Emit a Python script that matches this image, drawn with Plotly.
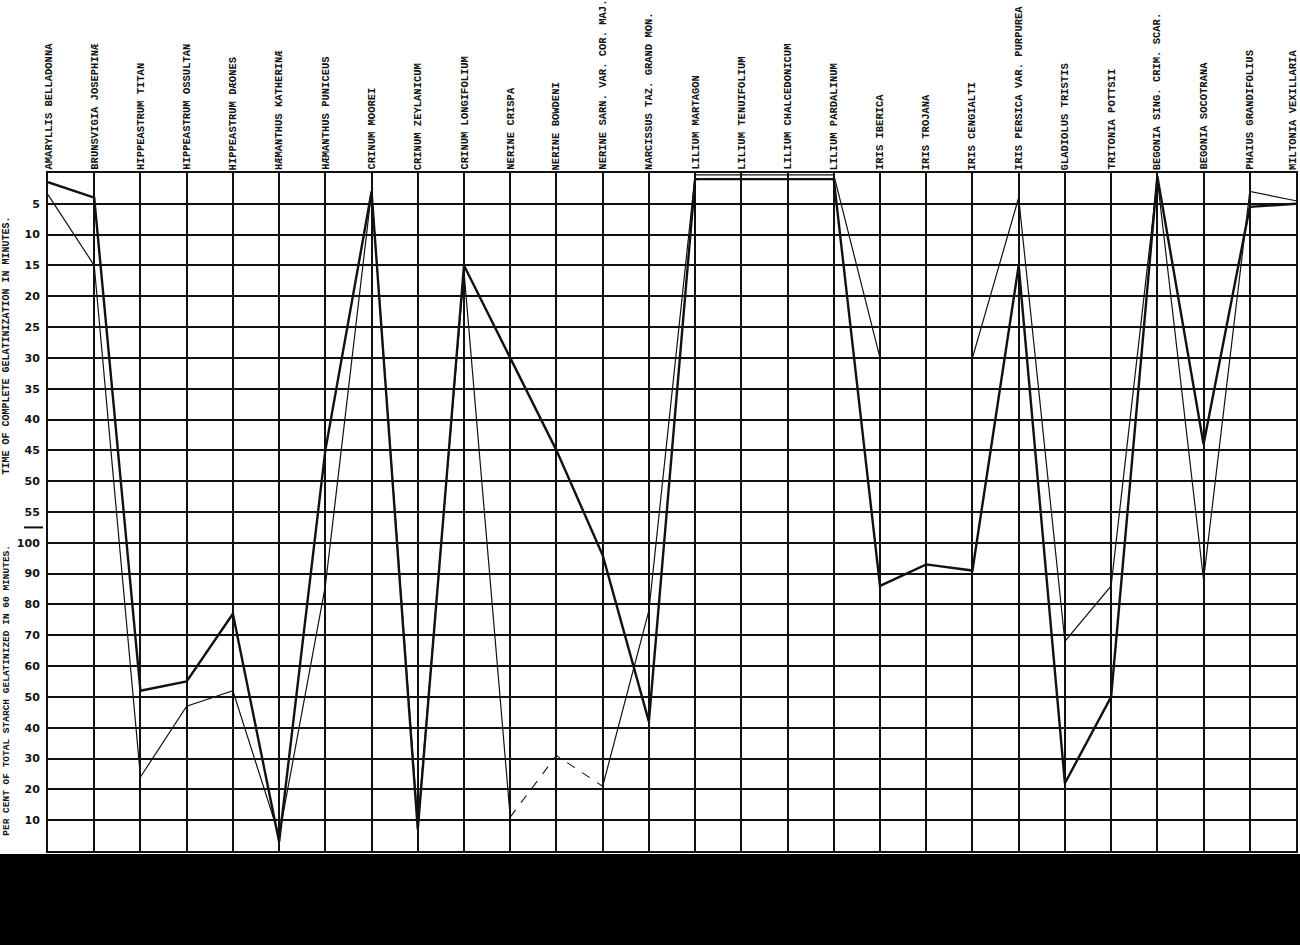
import plotly.graph_objects as go

species = [
    "AMARYLLIS BELLADONNA", "BRUNSVIGIA JOSEPHINÆ", "HIPPEASTRUM TITAN",
    "HIPPEASTRUM OSSULTAN", "HIPPEASTRUM DÆONES", "HÆMANTHUS KATHERINÆ",
    "HÆMANTHUS PUNICEUS", "CRINUM MOOREI", "CRINUM ZEYLANICUM",
    "CRINUM LONGIFOLIUM", "NERINE CRISPA", "NERINE BOWDENI",
    "NERINE SARN. VAR. COR. MAJ.", "NARCISSUS TAZ. GRAND MON.",
    "LILIUM MARTAGON", "LILIUM TENUIFOLIUM", "LILIUM CHALCEDONICUM",
    "LILIUM PARDALINUM", "IRIS IBERICA", "IRIS TROJANA", "IRIS CENGIALTI",
    "IRIS PERSICA VAR. PURPUREA", "GLADIOLUS TRISTIS", "TRITONIA POTTSII",
    "BEGONIA SING. CRIM. SCAR.", "BEGONIA SOCOTRANA", "PHAIUS GRANDIFOLIUS",
    "MILTONIA VEXILLARIA",
]

# 'min' = time of complete gelatinization (minutes); 'pct' = per cent gelatinized in 60 minutes
thick_unit = ["min", "min", "pct", "pct", "pct", "pct", "min", "min", "pct", "min",
              "min", "min", "pct", "pct", "min", "min", "min", "min", "pct", "pct",
              "pct", "min", "pct", "pct", "min", "min", "min", "min"]
thick_val = [1.5, 4, 52, 55, 77, 3, 45, 3, 7, 15,
             30, 45, 96, 42, 1, 1, 1, 1, 86, 93,
             91, 15, 22, 50, 0.5, 44, 5.5, 5]

thin_unit = ["min", "min", "pct", "pct", "pct", "pct", "pct", "min", "pct", "min",
             "pct", "pct", "pct", "pct", "min", "min", "min", "min", "min", "min",
             "min", "min", "pct", "pct", "min", "pct", "min", "min"]
thin_val = [3.5, 15, 24, 47, 52, 5, 86, 3, 9, 16,
            11, 31, 21, 78, 0.3, 0.3, 0.3, 0.3, 30, 30,
            30, 4, 68, 86, 1, 88, 3, 4.5]
thin_dashed_idx = [10, 11, 12]

minute_ticks = [5, 10, 15, 20, 25, 30, 35, 40, 45, 50, 55]
percent_ticks = [100, 90, 80, 70, 60, 50, 40, 30, 20, 10]

ROW_100 = 12  # row of the 100 % line (one row below 55 minutes)


def to_row(v, u):
    return v / 5.0 if u == "min" else ROW_100 + (100 - v) / 10.0


thick_y = [to_row(v, u) for v, u in zip(thick_val, thick_unit)]
thin_y = [to_row(v, u) for v, u in zip(thin_val, thin_unit)]
thin_solid = [None if i == 11 else y for i, y in enumerate(thin_y)]
dash_x = [species[i] for i in thin_dashed_idx]
dash_y = [thin_y[i] for i in thin_dashed_idx]

fig = go.Figure()
fig.add_trace(go.Scatter(x=species, y=thin_solid, mode="lines",
                         line=dict(color="#111", width=1.2), connectgaps=False))
fig.add_trace(go.Scatter(x=dash_x, y=dash_y, mode="lines",
                         line=dict(color="#111", width=1.1, dash="dash")))
fig.add_trace(go.Scatter(x=species, y=thick_y, mode="lines",
                         line=dict(color="#111", width=2.4)))

tickvals = [to_row(m, "min") for m in minute_ticks] + [to_row(p, "pct") for p in percent_ticks]
ticktext = [str(m) for m in minute_ticks] + [str(p) for p in percent_ticks]
bottom_row = to_row(0, "pct")

W, H = 1300, 945
ml, mr, mt, mb = 48, 4, 173, 94
pw, ph = W - ml - mr, H - mt - mb

annotations = []
for i, s in enumerate(species):
    annotations.append(dict(x=s, y=0, xref="x", yref="y", text="<b>" + s + "</b>",
                            textangle=-90, showarrow=False, xanchor="center",
                            yanchor="bottom", yshift=1,
                            xshift=(-3 if i == len(species) - 1 else 0),
                            font=dict(family="Liberation Mono", size=10.5, color="#111")))
annotations.append(dict(x=-41 / pw, y=5.6, xref="paper", yref="y",
                        text="<b>TIME OF COMPLETE GELATINIZATION IN MINUTES.</b>",
                        textangle=-90, showarrow=False, xanchor="center", yanchor="middle",
                        font=dict(family="Liberation Mono", size=10, color="#111")))
annotations.append(dict(x=-41 / pw, y=16.8, xref="paper", yref="y",
                        text="<b>PER CENT OF TOTAL STARCH GELATINIZED IN 60 MINUTES.</b>",
                        textangle=-90, showarrow=False, xanchor="center", yanchor="middle",
                        font=dict(family="Liberation Mono", size=9.5, color="#111")))

shapes = [
    dict(type="line", xref="paper", yref="y", x0=-24 / pw, x1=-5 / pw,
         y0=(to_row(55, "min") + ROW_100) / 2, y1=(to_row(55, "min") + ROW_100) / 2,
         line=dict(color="#111", width=2)),
    dict(type="rect", xref="paper", yref="paper", x0=-ml / pw - 0.01, x1=1 + mr / pw + 0.01,
         y0=-mb / ph - 0.01, y1=-3 / ph, fillcolor="black", line=dict(width=0), layer="above"),
]

fig.update_layout(
    width=W, height=H, margin=dict(l=ml, r=mr, t=mt, b=mb),
    paper_bgcolor="white", plot_bgcolor="white", showlegend=False,
    xaxis=dict(type="category", range=[0, len(species) - 1], showticklabels=False,
               showgrid=True, gridcolor="#111", gridwidth=2, ticks="",
               showline=True, mirror=True, linecolor="#111", linewidth=2, zeroline=False),
    yaxis=dict(range=[bottom_row, 0], tickvals=tickvals, ticktext=ticktext,
               showgrid=True, gridcolor="#111", gridwidth=1.6, ticks="",
               tickfont=dict(family="DejaVu Sans", size=11, color="#111", weight="bold"),
               ticklabelstandoff=4, automargin=False,
               showline=True, mirror=True, linecolor="#111", linewidth=2, zeroline=False),
    annotations=annotations, shapes=shapes,
)

fig.write_html("out.html", config={"displayModeBar": False},
               post_script="document.body.style.margin='0px';document.body.style.overflow='hidden';")
